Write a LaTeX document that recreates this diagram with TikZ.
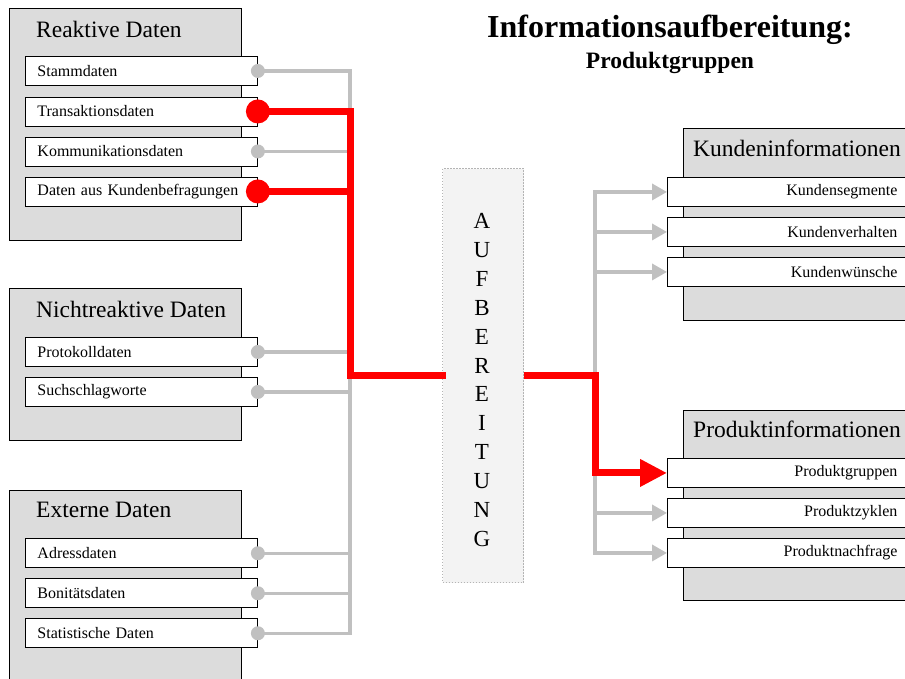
\documentclass[tikz,border=0pt]{standalone}
\usepackage{fontspec}
\setmainfont{Liberation Serif}
\usetikzlibrary{arrows.meta}
\definecolor{groupfill}{HTML}{DCDCDC}
\definecolor{wiregray}{HTML}{C0C0C0}
\definecolor{panelfill}{HTML}{F3F3F3}
\definecolor{panelline}{HTML}{B4B4B4}
\definecolor{hot}{HTML}{FF0000}
\begin{document}
\begin{tikzpicture}[x=1pt,y=-1pt,
  group/.style={draw=black, fill=groupfill, line width=0.9pt, anchor=north west, inner sep=0pt},
  grouptitle/.style={anchor=base west, inner sep=0pt, font=\fontsize{23.5}{26}\selectfont},
  item/.style={draw=black, fill=white, line width=0.9pt, anchor=north west,
    minimum height=29pt, inner ysep=0pt, font=\fontsize{16}{18}\selectfont},
  srcitem/.style={item, text width=208pt, inner xsep=12pt, align=left},
  dstitem/.style={item, text width=212pt, inner xsep=18pt, align=right},
  wire/.style={draw=wiregray, line width=3.5pt, line cap=rect},
  hotwire/.style={draw=hot, line width=7pt, line cap=rect},
  port/.style={circle, fill=wiregray, minimum size=14pt, inner sep=0pt},
  hotport/.style={circle, fill=hot, minimum size=24pt, inner sep=0pt},
  thinarrow/.style={-{Triangle[length=15pt,width=16pt]}},
  bigarrow/.style={-{Triangle[length=27pt,width=26pt]}},
]
\useasboundingbox (0,0) rectangle (905,678);
\clip (0,0) rectangle (905,678);

% heading
\node[anchor=base, inner sep=0pt, font=\bfseries\fontsize{32}{34}\selectfont] (title) at (670,37) {Informationsaufbereitung:};
\node[anchor=base, inner sep=0pt, font=\bfseries\fontsize{23.5}{26}\selectfont] (subtitle) at (670,68) {Produktgruppen};

% source groups
\node[group, minimum width=232pt, minimum height=232pt] (reaktiv) at (9,8) {};
\node[grouptitle] (reaktivT) at (36,37) {Reaktive Daten};
\node[srcitem] (stamm)  at (25,56)  {Stammdaten};
\node[srcitem] (trans)  at (25,96.5) {Transaktionsdaten};
\node[srcitem] (komm)   at (25,136.5) {Kommunikationsdaten};
\node[srcitem] (befrag) at (25,176.5) {Daten aus Kundenbefragungen};

\node[group, minimum width=232pt, minimum height=152pt] (nichtreaktiv) at (9,288) {};
\node[grouptitle] (nichtreaktivT) at (36,317) {Nichtreaktive Daten};
\node[srcitem] (proto)  at (25,337) {Protokolldaten};
\node[srcitem] (such)   at (25,377) {Suchschlagworte};

\node[group, minimum width=232pt, minimum height=210pt] (extern) at (9,490) {};
\node[grouptitle] (externT) at (36,517) {Externe Daten};
\node[srcitem] (adress)  at (25,538.3) {Adressdaten};
\node[srcitem] (boni)    at (25,578.3) {Bonitätsdaten};
\node[srcitem] (statist) at (25,618.3) {Statistische Daten};

% processing column
\node[draw=panelline, line width=1pt, dash pattern=on 1.5pt off 1.5pt, fill=panelfill,
  minimum width=81pt, minimum height=414pt, anchor=north west, inner sep=0pt] (aufb) at (442,168) {};
\node[align=center, inner sep=0pt, font=\fontsize{23}{28.9}\selectfont] (aufbT) at (482,380)
  {A\\U\\F\\B\\E\\R\\E\\I\\T\\U\\N\\G};

% target groups
\node[group, minimum width=240pt, minimum height=192pt] (kunden) at (683,128) {};
\node[grouptitle] (kundenT) at (693,156) {Kundeninformationen};
\node[dstitem] (kseg)  at (667,177) {Kundensegmente};
\node[dstitem] (kverh) at (667,217) {Kundenverhalten};
\node[dstitem] (kwun)  at (667,257) {Kundenwünsche};

\node[group, minimum width=240pt, minimum height=190pt] (produkt) at (683,410) {};
\node[grouptitle] (produktT) at (693,437) {Produktinformationen};
\node[dstitem] (pgr)  at (667,458) {Produktgruppen};
\node[dstitem] (pzy)  at (667,498) {Produktzyklen};
\node[dstitem] (pnf)  at (667,538) {Produktnachfrage};

% bus positions
\coordinate (lbus) at (350,0);
\coordinate (rbus) at (595,0);

% gray collection wires
\draw[wire] (stamm.east -| lbus) -- (statist.east -| lbus);
\foreach \s in {stamm,komm,proto,such,adress,boni,statist}
  \draw[wire] (\s.east) -- (\s.east -| lbus);

% gray distribution wires
\draw[wire] (kseg.west -| rbus) -- (pnf.west -| rbus);
\foreach \t in {kseg,kverh,kwun,pzy,pnf}
  \draw[wire, line cap=butt, thinarrow] ([xshift=-1.75pt]\t.west -| rbus) -- (\t.west);

% highlighted path
\draw[hotwire] (trans.east) -| (aufb.west -| lbus) -- (aufb.west);
\draw[hotwire] (befrag.east) -- (befrag.east -| lbus);
\draw[hotwire, line cap=butt, bigarrow] (aufb.east) -| ([yshift=3.5pt]pgr.west -| rbus) |- (pgr.west);

% ports
\foreach \s in {stamm,komm,proto,such,adress,boni,statist}
  \node[port] (\s P) at (\s.east) {};
\node[hotport] (transP) at (trans.east) {};
\node[hotport] (befragP) at (befrag.east) {};
\end{tikzpicture}
\end{document}
